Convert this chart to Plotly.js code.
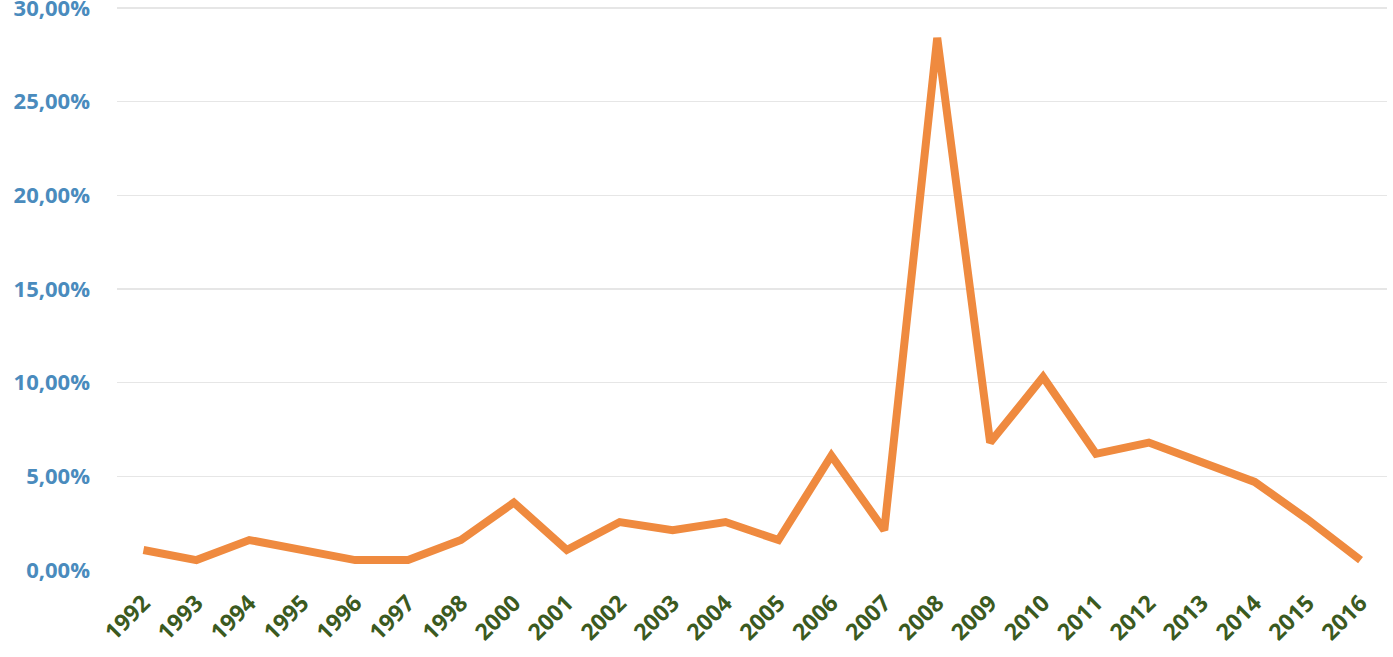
<!DOCTYPE html>
<html>
<head>
<meta charset="utf-8">
<script src="https://cdn.plot.ly/plotly-3.0.1.min.js"></script>
<style>
  html, body { margin: 0; padding: 0; background: #fff; }
  #chart { width: 1393px; height: 657px; }
</style>
</head>
<body>
<div id="chart"></div>
<script>
// years on the x axis (no 1999 in the source)
let years = ['1992', '1993', '1994', '1995', '1996', '1997', '1998', '2000', '2001', '2002', '2003', '2004',
             '2005', '2006', '2007', '2008', '2009', '2010', '2011', '2012', '2013', '2014', '2015', '2016'];

// rate in percent
let rates = [1.07, 0.53, 1.6, 1.07, 0.53, 0.53, 1.6, 3.6, 1.07, 2.56, 2.13, 2.56,
             1.6, 6.1, 2.13, 28.4, 6.8, 10.3, 6.2, 6.8, 5.8, 4.7, 2.7, 0.53];

let yTicks = [0, 5, 10, 15, 20, 25, 30];
let yTickText = ['0,00%', '5,00%', '10,00%', '15,00%', '20,00%', '25,00%', '30,00%'];

let trace = {
    x: years,
    y: rates,
    type: 'scatter',
    mode: 'lines',
    line: { color: '#ef8a3f', width: 8 },
    hoverinfo: 'x+y'
};

let layout = {
    width: 1393,
    height: 657,
    margin: { l: 117, r: 6, t: 0, b: 87 },
    paper_bgcolor: '#fff',
    plot_bgcolor: '#fff',
    showlegend: false,
    font: { family: 'Open Sans, sans-serif' },
    xaxis: {
        type: 'category',
        range: [-0.5, years.length - 0.5],
        tickangle: -45,
        showgrid: false,
        zeroline: false,
        showline: false,
        ticks: '',
        ticklabelstandoff: 14,
        tickfont: { size: 23, color: '#3b5a1f', weight: 'bold' }
    },
    yaxis: {
        range: [0, 30.42],
        tickvals: yTicks,
        ticktext: yTickText,
        showgrid: true,
        gridcolor: '#e6e6e6',
        gridwidth: 1.5,
        zeroline: false,
        showline: false,
        ticks: '',
        ticklabelstandoff: 26,
        ticklabeloverflow: 'allow',
        tickfont: { size: 22, color: '#4a8bbd', weight: 'bold' }
    }
};

Plotly.newPlot('chart', [trace], layout, { displayModeBar: false, staticPlot: true });
</script>
</body>
</html>
